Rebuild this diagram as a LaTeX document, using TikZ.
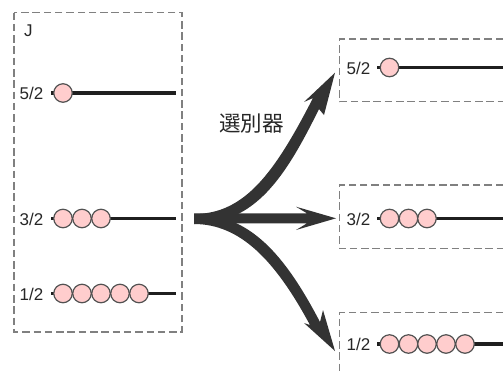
\documentclass[tikz,border=0pt]{standalone}
\usepackage{fontspec}
\setmainfont{Liberation Sans}
\newfontfamily\cjk{Noto Sans CJK JP}
\definecolor{beadpink}{RGB}{255,205,205}
\tikzset{
  dashbox/.style={draw=black!50,line width=1.4pt,dash pattern=on 7.5pt off 3.8pt},
  level/.style={draw=black!88,line width=3.5pt},
  bead/.style={circle,draw=black!68,fill=beadpink,line width=1.2pt,minimum size=18.5pt,inner sep=0pt},
  lab/.style={text=black!85,font=\fontsize{17}{17}\selectfont,inner sep=0pt},
  bigarrow/.style={fill=black!80,draw=none}
}
\begin{document}
\begin{tikzpicture}[x=1pt,y=-1pt]
\useasboundingbox (0,0) rectangle (503,373);
% boxes
\draw[dashbox] (14,12.5) rectangle (182,332);
\draw[dashbox] (503,39) -- (339.5,39) -- (339.5,101.5) -- (503,101.5);
\draw[dashbox] (503,185) -- (339.5,185) -- (339.5,248.5) -- (503,248.5);
\draw[dashbox] (503,312.5) -- (339.5,312.5) -- (339.5,373);
\node[lab,anchor=west] (j) at (24,30.5) {J};
% left levels
\coordinate (a0) at (51,93); \coordinate (a1) at (176,93);
\coordinate (b0) at (51,218.5); \coordinate (b1) at (176,218.5);
\coordinate (c0) at (51,293.5); \coordinate (c1) at (176,293.5);
\draw[level] (a0) -- (a1);
\draw[level] (b0) -- (b1);
\draw[level] (c0) -- (c1);
\node[lab,anchor=east] (la) at (43.5,93.5) {5/2};
\node[lab,anchor=east] (lb) at (43.5,219) {3/2};
\node[lab,anchor=east] (lc) at (43.5,294) {1/2};
\node[bead] (a) at (63,93) {};
\foreach \i/\x in {1/63,2/82,3/101}{\node[bead] (b\i) at (\x,218.5) {};}
\foreach \i/\x in {1/63,2/82,3/101,4/120,5/139}{\node[bead] (c\i) at (\x,293.5) {};}
% right levels
\coordinate (d0) at (377,67.5); \coordinate (d1) at (503,67.5);
\coordinate (e0) at (377,218.5); \coordinate (e1) at (503,218.5);
\coordinate (f0) at (377,344); \coordinate (f1) at (503,344);
\draw[level] (d0) -- (d1);
\draw[level] (e0) -- (e1);
\draw[level] (f0) -- (f1);
\node[lab,anchor=east] (ld) at (370.5,68) {5/2};
\node[lab,anchor=east] (le) at (370.5,219) {3/2};
\node[lab,anchor=east] (lf) at (370.5,344.5) {1/2};
\node[bead] (d) at (389.5,67.5) {};
\foreach \i/\x in {1/389.5,2/408.5,3/427}{\node[bead] (e\i) at (\x,218.5) {};}
\foreach \i/\x in {1/389.5,2/408.5,3/427,4/446,5/465}{\node[bead] (f\i) at (\x,344) {};}
% arrows
\fill[bigarrow] (194,214) .. controls (245,214) and (275,172) .. (313,98)
  -- (304,102) -- (335,72.7) -- (324,115) -- (319,109)
  .. controls (285,178) and (255,224) .. (194,224) -- cycle;
\fill[bigarrow] (194,213.3) -- (307,213.3) -- (296,206.7) -- (336,218.3) -- (296,230) -- (307,223.3) -- (194,223.3) -- cycle;
\fill[bigarrow] (194,214) .. controls (250,214) and (285,255) .. (320,322)
  -- (323,310) -- (335,351) -- (304,323) -- (310,325)
  .. controls (275,260) and (240,224) .. (194,224) -- cycle;
\node[text=black!85,font=\cjk\fontsize{21.5}{21.5}\selectfont,inner sep=0pt] (sel) at (251.5,124) {選別器};
\end{tikzpicture}
\end{document}
